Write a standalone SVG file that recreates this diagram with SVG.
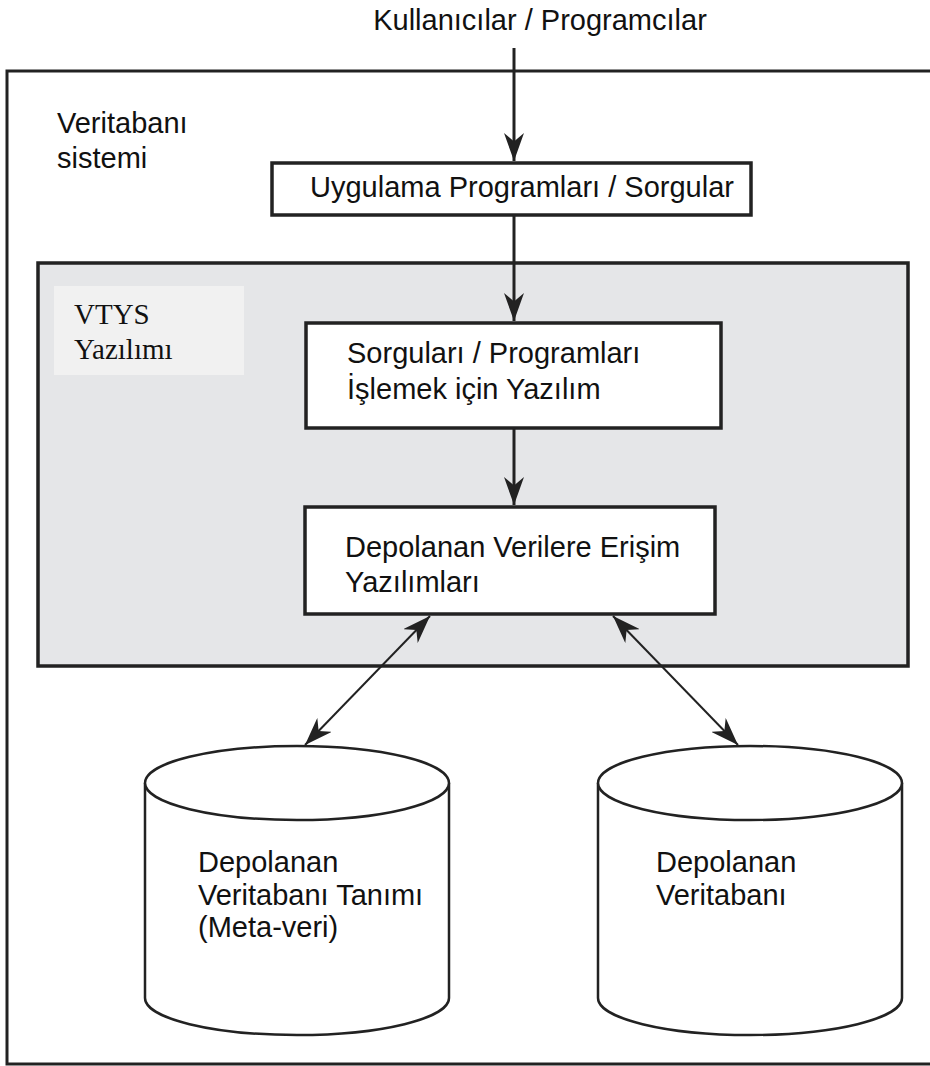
<svg xmlns="http://www.w3.org/2000/svg" width="930" height="1066" viewBox="0 0 930 1066">
<style>
.t{font-family:"Liberation Sans",Arial,sans-serif;font-size:29px;fill:#111}
.s{font-family:"Liberation Serif","Times New Roman",serif;font-size:29px;fill:#111}
.box{fill:#fff;stroke:#222;stroke-width:3.5}
.cyl{fill:#fff;stroke:#222;stroke-width:2.5}
.ln{stroke:#222;stroke-width:3;fill:none}
.dl{stroke:#222;stroke-width:2;fill:none}
</style>
<defs>
<marker id="ah2" viewBox="0 0 10 10" refX="10" refY="5" markerWidth="28" markerHeight="20" markerUnits="userSpaceOnUse" orient="auto-start-reverse" preserveAspectRatio="none">
<path d="M0,0 L10,5 L0,10 L3,5 z" fill="#222"/>
</marker>
</defs>
<g id="frame">
<rect x="7" y="71" width="940" height="993" fill="none" stroke="#222" stroke-width="3"/>
<text class="t" x="57" y="133">Veritabanı</text>
<text class="t" x="57" y="168">sistemi</text>
</g>
<g id="users">
<text class="t" x="540" y="30" text-anchor="middle">Kullanıcılar  / Programcılar</text>
</g>
<g id="vtys">
<rect x="38" y="263" width="870" height="403" fill="#e5e6e8" stroke="#222" stroke-width="3.5"/>
<rect x="54" y="286" width="190" height="89" fill="#f1f1f1"/>
<text class="s" x="74" y="324">VTYS</text>
<text class="s" x="74" y="359">Yazılımı</text>
</g>
<g id="app">
<rect class="box" x="272" y="163" width="479" height="52"/>
<text class="t" x="522" y="197" text-anchor="middle">Uygulama Programları / Sorgular</text>
</g>
<g id="query">
<rect class="box" x="306" y="323" width="415" height="105"/>
<text class="t" x="347" y="363">Sorguları / Programları</text>
<text class="t" x="347" y="399">İşlemek için Yazılım</text>
</g>
<g id="access">
<rect class="box" x="305" y="507" width="410" height="107"/>
<text class="t" x="345" y="557">Depolanan Verilere Erişim</text>
<text class="t" x="345" y="592">Yazılımları</text>
</g>
<g id="meta">
<path class="cyl" d="M145,783 L145,998 A152,37 0 0 0 449,998 L449,783"/>
<ellipse class="cyl" cx="297" cy="783" rx="152" ry="37"/>
<text class="t" x="198" y="872">Depolanan</text>
<text class="t" x="198" y="905">Veritabanı Tanımı</text>
<text class="t" x="198" y="937">(Meta-veri)</text>
</g>
<g id="db">
<path class="cyl" d="M598,783 L598,998 A152,37 0 0 0 902,998 L902,783"/>
<ellipse class="cyl" cx="750" cy="783" rx="152" ry="37"/>
<text class="t" x="656" y="872">Depolanan</text>
<text class="t" x="656" y="905">Veritabanı</text>
</g>
<g id="connectors">
<line class="ln" x1="514" y1="48" x2="514" y2="161" marker-end="url(#ah2)"/>
<line class="ln" x1="514" y1="215" x2="514" y2="321" marker-end="url(#ah2)"/>
<line class="ln" x1="514" y1="428" x2="514" y2="505" marker-end="url(#ah2)"/>
<line class="dl" x1="430" y1="616" x2="305" y2="745" marker-start="url(#ah2)" marker-end="url(#ah2)"/>
<line class="dl" x1="613" y1="616" x2="738" y2="745" marker-start="url(#ah2)" marker-end="url(#ah2)"/>
</g>
</svg>
